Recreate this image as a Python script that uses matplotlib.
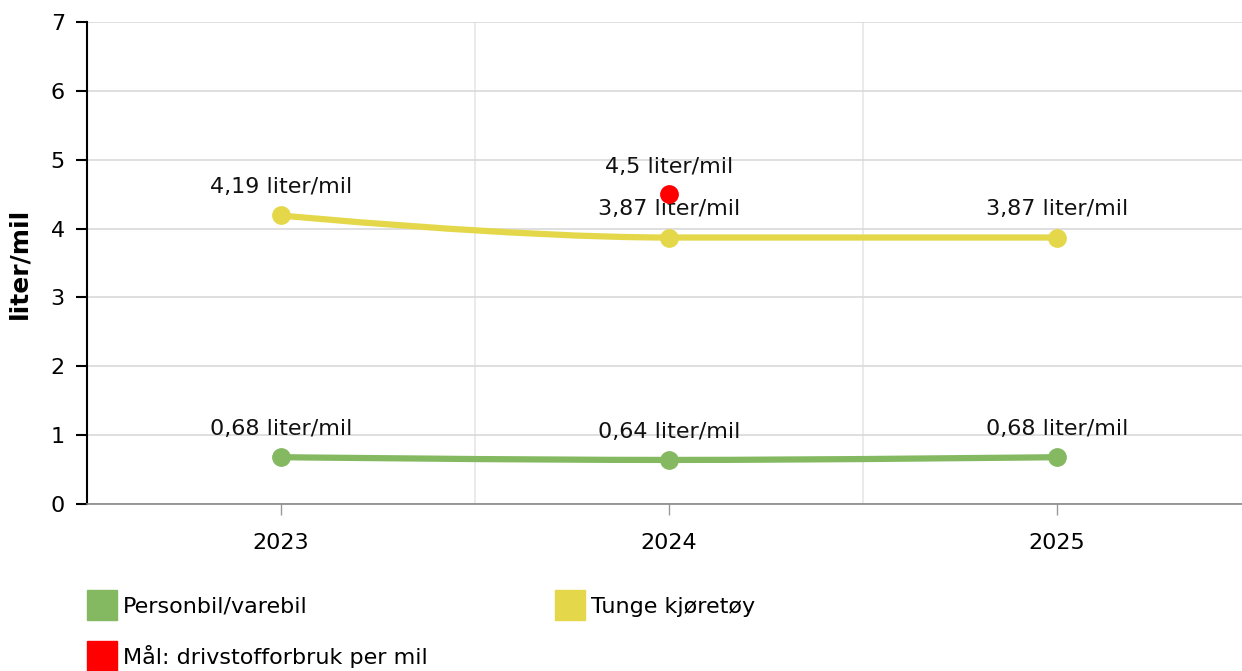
import numpy as np
import matplotlib.pyplot as plt
from matplotlib.path import Path
from matplotlib.patches import PathPatch
from matplotlib.lines import Line2D

# data
years = ['2023', '2024', '2025']
personbil = [0.68, 0.64, 0.68]
tunge = [4.19, 3.87, 3.87]
maal_year = '2024'
maal = 4.5

green = '#84b962'
yellow = '#e4d84a'
red = '#ff0000'

plt.rcParams['font.family'] = 'DejaVu Sans'
plt.rcParams['font.size'] = 16


def spline_path(xs, ys, smoothing=1.5):
    # highcharts style spline through the points
    n = len(xs)
    lc = [None] * n
    rc = [None] * n
    denom = smoothing + 1
    for i in range(1, n - 1):
        x, y = xs[i], ys[i]
        lx, ly = xs[i - 1], ys[i - 1]
        nx, ny = xs[i + 1], ys[i + 1]
        lcx = (smoothing * x + lx) / denom
        lcy = (smoothing * y + ly) / denom
        rcx = (smoothing * x + nx) / denom
        rcy = (smoothing * y + ny) / denom
        corr = (rcy - lcy) * (rcx - x) / (rcx - lcx) + y - rcy
        lcy += corr
        rcy += corr
        if lcy > ly and lcy > y:
            lcy = max(ly, y); rcy = 2 * y - lcy
        elif lcy < ly and lcy < y:
            lcy = min(ly, y); rcy = 2 * y - lcy
        if rcy > ny and rcy > y:
            rcy = max(ny, y); lcy = 2 * y - rcy
        elif rcy < ny and rcy < y:
            rcy = min(ny, y); lcy = 2 * y - rcy
        lc[i] = (lcx, lcy)
        rc[i] = (rcx, rcy)
    verts = [(xs[0], ys[0])]
    codes = [Path.MOVETO]
    for i in range(1, n):
        c1 = rc[i - 1] if rc[i - 1] else (xs[i - 1], ys[i - 1])
        c2 = lc[i] if lc[i] else (xs[i], ys[i])
        verts += [c1, c2, (xs[i], ys[i])]
        codes += [Path.CURVE4] * 3
    return Path(verts, codes)


fig = plt.figure(figsize=(12.42, 6.71), dpi=100)
ax = fig.add_axes([87 / 1242, 1 - 504 / 671, (1251 - 87) / 1242, (504 - 22) / 671])

x = np.arange(len(years))
for vals, col in [(personbil, green), (tunge, yellow)]:
    ax.add_patch(PathPatch(spline_path(x, vals), facecolor='none', edgecolor=col,
                           lw=4.5, capstyle='round', zorder=3))
    ax.plot(x, vals, 'o', color=col, ms=12.5, zorder=4)
    for xi, v in zip(x, vals):
        ax.annotate(f'{v:.2f}'.replace('.', ',') + ' liter/mil', (xi, v),
                    xytext=(0, 16), textcoords='offset points',
                    ha='center', va='baseline', color='#111111', zorder=5)

xm = years.index(maal_year)
ax.plot([xm], [maal], 'o', color=red, ms=12.5, zorder=6)
ax.annotate(f'{maal:g}'.replace('.', ',') + ' liter/mil', (xm, maal),
            xytext=(0, 15), textcoords='offset points',
            ha='center', va='baseline', color='#111111', zorder=5)

ax.set_xlim(-0.5, len(years) - 0.5)
ax.set_ylim(0, 7)
ax.set_xticks(x)
ax.set_xticklabels(years)
ax.set_xticks(x[:-1] + 0.5, minor=True)
ax.set_yticks(range(0, 8))
ax.grid(axis='y', color='#d9d9d9', lw=1.2)
ax.grid(axis='x', which='minor', color='#e6e6e6', lw=1.2)
ax.set_axisbelow(True)

for s in ['top', 'right']:
    ax.spines[s].set_visible(False)
ax.spines['left'].set_color('black')
ax.spines['left'].set_linewidth(1.5)
ax.spines['bottom'].set_color('#888888')
ax.spines['bottom'].set_linewidth(1.2)
ax.tick_params(axis='y', length=8, width=1.5, color='black', pad=8, labelsize=16)
ax.tick_params(axis='x', which='major', length=8, width=1, color='#999999', pad=13, labelsize=16)
ax.tick_params(axis='x', which='minor', length=0)
ax.set_ylabel('liter/mil', fontweight='bold', fontsize=18, labelpad=14)

handles = [
    Line2D([], [], ls='none', marker='s', ms=22, color=green, label='Personbil/varebil'),
    Line2D([], [], ls='none', marker='s', ms=22, color=red, label='Mål: drivstofforbruk per mil'),
    Line2D([], [], ls='none', marker='s', ms=22, color=yellow, label='Tunge kjøretøy'),
]
fig.legend(handles=handles, ncol=2, loc='upper left', bbox_to_anchor=(82 / 1242, 1 - 588 / 671),
           frameon=False, fontsize=16, handlelength=1.0, handletextpad=0.45,
           columnspacing=5.9, labelspacing=1.25, borderaxespad=0)

fig.savefig('out.png', dpi=100)
